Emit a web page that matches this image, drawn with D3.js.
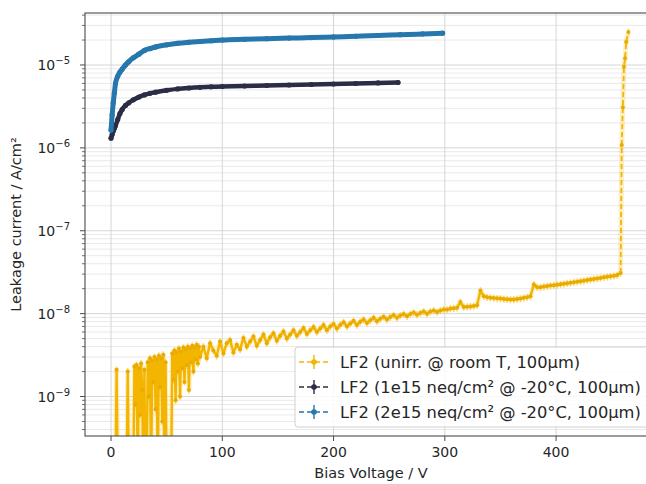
<!DOCTYPE html>
<html lang="en">
<head>
<meta charset="utf-8">
<title>Leakage current vs bias voltage</title>
<script src="https://d3js.org/d3.v7.min.js"></script>
<style>
  body { margin: 0; background: #fff; }
  text { font-family: "DejaVu Sans", sans-serif; fill: #262626; }
</style>
</head>
<body>
<script>
// ---- data ----
var seriesNames = [
  "LF2 (unirr. @ room T, 100\u03bcm)",
  "LF2 (1e15 neq/cm\u00b2 @ -20\u00b0C, 100\u03bcm)",
  "LF2 (2e15 neq/cm\u00b2 @ -20\u00b0C, 100\u03bcm)"
];
var seriesColors = ["#f3b500", "#2b2c45", "#2577ad"];

var xTicks = [0, 100, 200, 300, 400];
var yTickExp = [-9, -8, -7, -6, -5];

// unirradiated sensor: voltage grid and current (A/cm^2), 1e-10 = below axis
var unirrV = [].concat(d3.range(0, 81, 1), d3.range(83, 300, 3), d3.range(302, 459, 3),
  [459, 460, 461, 462, 463, 465]);
var unirrI = [
  // 0 - 80 V, step 1
  1e-10, 1e-10, 1e-10, 1e-10, 1e-10, 2.1e-9, 1e-10, 1e-10, 1e-10, 1e-10,
  1e-10, 1e-10, 1e-10, 1e-10, 1e-10, 2.0e-9, 1e-10, 1e-10, 1e-10, 1e-10,
  1e-10, 2.3e-9, 8e-10, 2.4e-9, 1e-10, 2.2e-9, 6e-10, 2.5e-9, 1.2e-9, 1e-10,
  2.1e-9, 1e-10, 1e-10, 2.6e-9, 1.0e-9, 2.9e-9, 1e-10, 2.7e-9, 1.5e-9, 3.0e-9,
  7e-10, 2.8e-9, 1e-10, 3.1e-9, 1.3e-9, 2.9e-9, 5e-10, 3.2e-9, 1e-10, 2.6e-9,
  1e-10, 1e-10, 1e-10, 1e-10, 1e-10, 3.3e-9, 1.6e-9, 3.6e-9, 9e-10, 3.4e-9,
  2.0e-9, 3.8e-9, 1.0e-9, 3.5e-9, 2.2e-9, 3.9e-9, 1.5e-9, 3.7e-9, 2.4e-9, 4.0e-9,
  1.2e-9, 3.8e-9, 2.6e-9, 4.1e-9, 2.0e-9, 3.9e-9, 2.8e-9, 4.2e-9, 2.5e-9, 4.0e-9,
  3.0e-9,
  // 83 - 299 V, step 3
  4.0e-9, 2.9e-9, 4.4e-9, 3.6e-9, 3.1e-9, 4.6e-9, 3.3e-9, 4.4e-9, 4.8e-9, 3.4e-9,
  4.2e-9, 3.7e-9, 5.1e-9, 4.0e-9, 4.6e-9, 5.3e-9, 4.1e-9, 4.8e-9, 5.6e-9, 4.4e-9,
  5.2e-9, 5.8e-9, 4.7e-9, 5.4e-9, 6.1e-9, 5.0e-9, 5.6e-9, 6.3e-9, 5.4e-9, 6.0e-9,
  6.7e-9, 5.7e-9, 6.3e-9, 6.9e-9, 6.0e-9, 6.6e-9, 7.3e-9, 6.3e-9, 7.0e-9, 7.5e-9,
  6.6e-9, 7.3e-9, 7.9e-9, 7.0e-9, 7.6e-9, 8.2e-9, 7.3e-9, 8.0e-9, 8.5e-9, 7.7e-9,
  8.3e-9, 8.9e-9, 8.1e-9, 8.7e-9, 9.2e-9, 8.5e-9, 9.1e-9, 9.6e-9, 8.9e-9, 9.5e-9,
  9.9e-9, 9.3e-9, 9.9e-9, 1.03e-8, 9.7e-9, 1.02e-8, 1.06e-8, 1.0e-8, 1.06e-8, 1.09e-8,
  1.05e-8, 1.09e-8, 1.12e-8,
  // 302 - 458 V, step 3
  1.12e-8, 1.15e-8, 1.16e-8, 1.18e-8, 1.38e-8, 1.2e-8, 1.21e-8, 1.22e-8, 1.24e-8, 1.26e-8,
  1.9e-8, 1.62e-8, 1.58e-8, 1.56e-8, 1.54e-8, 1.53e-8, 1.52e-8, 1.5e-8, 1.49e-8, 1.48e-8,
  1.48e-8, 1.5e-8, 1.52e-8, 1.55e-8, 1.58e-8, 1.62e-8, 2.25e-8, 2.08e-8, 2.08e-8, 2.12e-8,
  2.15e-8, 2.18e-8, 2.2e-8, 2.23e-8, 2.26e-8, 2.3e-8, 2.33e-8, 2.36e-8, 2.4e-8, 2.43e-8,
  2.46e-8, 2.5e-8, 2.54e-8, 2.58e-8, 2.62e-8, 2.66e-8, 2.7e-8, 2.74e-8, 2.78e-8, 2.82e-8,
  2.86e-8, 2.92e-8, 3.1e-8,
  // breakdown
  1.08e-6, 3.1e-6, 9.5e-6, 1.21e-5, 1.9e-5, 2.5e-5
];
var unirrRelErr = 0.1;

// 1e15 neq/cm^2
var irr1V = [0, 1, 2, 3, 4, 6, 8, 10, 13, 16, 20, 25, 30, 35, 40, 50, 60, 70, 80, 90,
  100, 120, 140, 160, 180, 200, 220, 240, 258];
var irr1I = [1.31e-6, 1.45e-6, 1.6e-6, 1.72e-6, 1.85e-6, 2.2e-6, 2.6e-6, 2.9e-6, 3.25e-6, 3.5e-6,
  3.8e-6, 4.1e-6, 4.35e-6, 4.55e-6, 4.7e-6, 4.95e-6, 5.15e-6, 5.28e-6, 5.38e-6, 5.45e-6,
  5.5e-6, 5.58e-6, 5.66e-6, 5.74e-6, 5.82e-6, 5.9e-6, 5.98e-6, 6.07e-6, 6.15e-6];

// 2e15 neq/cm^2
var irr2V = [0, 1, 2, 3, 4, 6, 8, 10, 13, 16, 20, 25, 30, 35, 40, 50, 60, 70, 80, 90,
  100, 120, 140, 160, 180, 200, 220, 240, 260, 280, 298];
var irr2I = [1.64e-6, 2.5e-6, 3.5e-6, 4.6e-6, 6.0e-6, 7.3e-6, 8.2e-6, 8.9e-6, 1.0e-5, 1.1e-5,
  1.22e-5, 1.35e-5, 1.5e-5, 1.58e-5, 1.65e-5, 1.75e-5, 1.83e-5, 1.88e-5, 1.92e-5, 1.96e-5,
  2.0e-5, 2.04e-5, 2.08e-5, 2.11e-5, 2.14e-5, 2.18e-5, 2.22e-5, 2.27e-5, 2.32e-5, 2.37e-5, 2.42e-5];

// ---- layout ----
var W = 646, H = 484;
var margin = {top: 13, left: 85, right: -11, bottom: 48};
var width = W - margin.left - margin.right,
    height = H - margin.top - margin.bottom;

var svg = d3.select("body").append("svg")
  .attr("width", W).attr("height", H);

var g = svg.append("g")
  .attr("transform", "translate(" + margin.left + "," + margin.top + ")");

var x = d3.scaleLinear().domain([-23.4, 490.7]).range([0, width]);
var y = d3.scaleLog().domain([3.34e-10, 4.24e-5]).range([height, 0]);

g.append("clipPath").attr("id", "plotclip")
  .append("rect").attr("width", width).attr("height", height);

// grid
var minorY = [];
for (var e = -10; e <= -5; e++) {
  for (var m = 2; m <= 9; m++) {
    var v = m * Math.pow(10, e);
    if (v > y.domain()[0] && v < y.domain()[1]) minorY.push(v);
  }
}
var majorY = yTickExp.map(function(p){ return Math.pow(10, p); });

g.append("g").selectAll("line").data(minorY).enter().append("line")
  .attr("x1", 0).attr("x2", width)
  .attr("y1", function(d){ return y(d); }).attr("y2", function(d){ return y(d); })
  .attr("stroke", "#e6e6e6").attr("stroke-width", 0.9);
g.append("g").selectAll("line").data(majorY).enter().append("line")
  .attr("x1", 0).attr("x2", width)
  .attr("y1", function(d){ return y(d); }).attr("y2", function(d){ return y(d); })
  .attr("stroke", "#d6d6d6").attr("stroke-width", 1);
g.append("g").selectAll("line").data(xTicks).enter().append("line")
  .attr("y1", 0).attr("y2", height)
  .attr("x1", function(d){ return x(d); }).attr("x2", function(d){ return x(d); })
  .attr("stroke", "#d6d6d6").attr("stroke-width", 1);

// series
var plot = g.append("g").attr("clip-path", "url(#plotclip)");

function zip(vs, is) {
  return vs.map(function(v, i){ return {v: v, i: is[i]}; });
}
var line = d3.line()
  .x(function(d){ return x(d.v); })
  .y(function(d){ return y(d.i); });

var unirr = zip(unirrV, unirrI),
    irr1 = zip(irr1V, irr1I),
    irr2 = zip(irr2V, irr2I);

// unirradiated: error bars, then the line (dense part looks solid, breakdown dashed)
var dense = unirr.filter(function(d){ return d.v <= 458; }),
    brk = unirr.filter(function(d){ return d.v >= 458; });
plot.append("g").selectAll("line").data(unirr).enter().append("line")
  .attr("x1", function(d){ return x(d.v); }).attr("x2", function(d){ return x(d.v); })
  .attr("y1", function(d){ return y(d.i * (1 + unirrRelErr)); })
  .attr("y2", function(d){ return y(d.i * (1 - unirrRelErr)); })
  .attr("stroke", "#f9cf50").attr("stroke-width", 1.6).attr("stroke-opacity", 0.8);
plot.append("path").datum(unirr)
  .attr("d", line).attr("fill", "none")
  .attr("stroke", "#fbd76a").attr("stroke-width", 5).attr("stroke-opacity", 0.4)
  .attr("stroke-linejoin", "round");
plot.append("path").datum(dense)
  .attr("d", line).attr("fill", "none")
  .attr("stroke", seriesColors[0]).attr("stroke-width", 2.4)
  .attr("stroke-linejoin", "round");
plot.append("path").datum(brk)
  .attr("d", line).attr("fill", "none")
  .attr("stroke", seriesColors[0]).attr("stroke-width", 1.8)
  .attr("stroke-dasharray", "5,3");
plot.append("g").selectAll("circle").data(unirr).enter().append("circle")
  .attr("cx", function(d){ return x(d.v); })
  .attr("cy", function(d){ return y(d.i); })
  .attr("r", 2).attr("fill", "#eaab00");

// irradiated curves: markers sit so close they form a thick line
[[irr1, seriesColors[1], 4.5], [irr2, seriesColors[2], 5]].forEach(function(s){
  plot.append("path").datum(s[0])
    .attr("d", line.curve(d3.curveMonotoneX)).attr("fill", "none")
    .attr("stroke", s[1]).attr("stroke-width", s[2])
    .attr("stroke-linecap", "round").attr("stroke-linejoin", "round");
  plot.append("g").selectAll("circle").data(s[0]).enter().append("circle")
    .attr("cx", function(d){ return x(d.v); })
    .attr("cy", function(d){ return y(d.i); })
    .attr("r", 2.6).attr("fill", s[1]);
  line.curve(d3.curveLinear);
});

// frame
g.append("rect").attr("width", width).attr("height", height)
  .attr("fill", "none").attr("stroke", "#4a4a4a").attr("stroke-width", 1.1);

// x ticks
var xt = g.append("g").attr("transform", "translate(0," + height + ")");
xTicks.forEach(function(t){
  xt.append("line").attr("x1", x(t)).attr("x2", x(t)).attr("y1", 0).attr("y2", 5)
    .attr("stroke", "#4a4a4a");
  xt.append("text").attr("x", x(t)).attr("y", 21)
    .attr("text-anchor", "middle").attr("font-size", "14px").text(t);
});

// y ticks
var yt = g.append("g");
minorY.forEach(function(v){
  yt.append("line").attr("x1", -3).attr("x2", 0).attr("y1", y(v)).attr("y2", y(v))
    .attr("stroke", "#4a4a4a").attr("stroke-width", 0.8);
});
yTickExp.forEach(function(p){
  var yy = y(Math.pow(10, p));
  yt.append("line").attr("x1", -5).attr("x2", 0).attr("y1", yy).attr("y2", yy)
    .attr("stroke", "#4a4a4a");
  var t = yt.append("text").attr("x", -15).attr("y", yy + 5)
    .attr("text-anchor", "end").attr("font-size", "14px");
  t.append("tspan").text("10");
  t.append("tspan").attr("dy", -6).attr("font-size", "10px").text("\u2212" + (-p));
});

// axis labels
svg.append("text")
  .attr("x", margin.left + width / 2).attr("y", 478)
  .attr("text-anchor", "middle").attr("font-size", "14.5px")
  .text("Bias Voltage / V");
svg.append("text")
  .attr("transform", "translate(21," + (margin.top + height / 2) + ") rotate(-90)")
  .attr("text-anchor", "middle").attr("font-size", "14.5px")
  .text("Leakage current / A/cm\u00b2");

// legend
var lg = svg.append("g").attr("transform", "translate(295,347)");
lg.append("rect").attr("width", 360).attr("height", 80).attr("rx", 3)
  .attr("fill", "#fff").attr("fill-opacity", 0.85)
  .attr("stroke", "#d0d0d0");
seriesNames.forEach(function(name, i){
  var ly = 15 + i * 25;
  lg.append("line").attr("x1", 4).attr("x2", 34).attr("y1", ly).attr("y2", ly)
    .attr("stroke", seriesColors[i]).attr("stroke-width", 1.6)
    .attr("stroke-dasharray", "5,3");
  lg.append("line").attr("x1", 19).attr("x2", 19).attr("y1", ly - 7).attr("y2", ly + 7)
    .attr("stroke", seriesColors[i]).attr("stroke-width", 1.4);
  lg.append("circle").attr("cx", 19).attr("cy", ly).attr("r", 2.8)
    .attr("fill", seriesColors[i]);
  lg.append("text").attr("x", 45).attr("y", ly + 5.5)
    .attr("font-size", "16.3px").text(name);
});
</script>
</body>
</html>
